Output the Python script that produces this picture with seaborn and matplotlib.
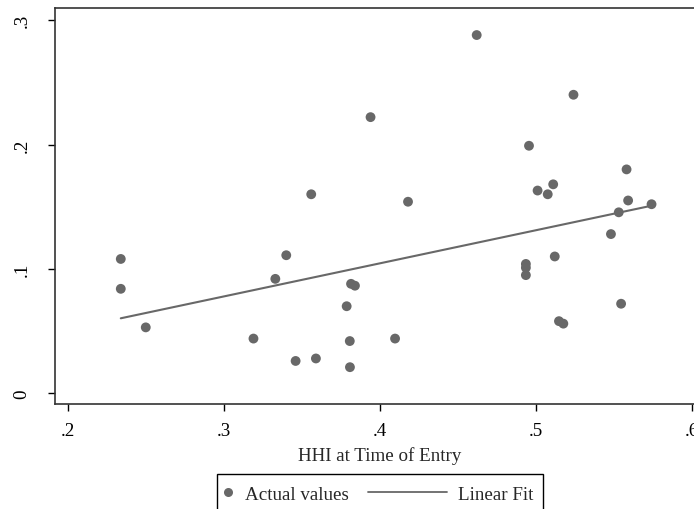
import numpy as np
import pandas as pd
import seaborn as sns
import matplotlib
matplotlib.use("Agg")
import matplotlib.pyplot as plt
from matplotlib.lines import Line2D
from matplotlib.patches import Rectangle

hhi = [0.234, 0.234, 0.250, 0.319, 0.333, 0.340, 0.356, 0.346, 0.359,
       0.462, 0.524, 0.394, 0.4955, 0.558, 0.511, 0.501, 0.5075, 0.418,
       0.559, 0.574, 0.553, 0.548, 0.512, 0.4935, 0.4935, 0.4935,
       0.3815, 0.384, 0.3787, 0.3807, 0.3808, 0.4097, 0.5545, 0.5147, 0.5175]
outcome = [0.108, 0.084, 0.053, 0.044, 0.092, 0.111, 0.160, 0.026, 0.028,
           0.288, 0.240, 0.222, 0.199, 0.180, 0.168, 0.163, 0.160, 0.154,
           0.155, 0.152, 0.1455, 0.128, 0.110, 0.104, 0.101, 0.095,
           0.088, 0.0865, 0.070, 0.042, 0.021, 0.044, 0.072, 0.058, 0.056]

fit_x = [0.234, 0.574]
fit_y = [0.0603, 0.1508]

xticks = [0.2, 0.3, 0.4, 0.5, 0.6]
xticklabels = [".2", ".3", ".4", ".5", ".6"]
yticks = [0.0, 0.1, 0.2, 0.3]
yticklabels = ["0", ".1", ".2", ".3"]

df = pd.DataFrame({"hhi": hhi, "y": outcome})
fit = pd.DataFrame({"x": fit_x, "y": fit_y})

sns.set_style("white")
plt.rcParams["font.family"] = ["Liberation Serif", "DejaVu Serif"]

FS = 13.7
W, H = 694, 510
fig = plt.figure(figsize=(6.94, 5.10), dpi=100)
ax = fig.add_axes([55/W, 1 - 405/H, (W-55)/W, (405-9.3)/H])

col = "#686868"
sns.scatterplot(data=df, x="hhi", y="y", ax=ax, s=50, color=col,
                edgecolor="none", zorder=3)
sns.lineplot(data=fit, x="x", y="y", ax=ax, color=col, lw=1.5, zorder=2)

ax.set_xlim(0.19186, 0.6012)
ax.set_ylim(-0.0086, 0.3095)
ax.set_xticks(xticks)
ax.set_xticklabels(xticklabels)
ax.set_yticks(yticks)
ax.set_yticklabels(yticklabels, rotation=90, va="center")
ax.tick_params(direction="out", length=5, width=1, colors="black",
               labelsize=FS, bottom=True, left=True)
ax.tick_params(axis="x", pad=8)
ax.tick_params(axis="y", pad=12.5)
ax.set_xlabel("HHI at Time of Entry", fontsize=FS)
ax.xaxis.set_label_coords((379.5 - 55) / (W - 55), -(456 - 405) / (405 - 9.3),
                          transform=ax.transAxes)
ax.xaxis.label.set_va("center")
ax.set_ylabel("")
for s in ["left", "bottom", "top"]:
    ax.spines[s].set_color("#333333")
    ax.spines[s].set_linewidth(1.2)
ax.spines["right"].set_visible(False)

# legend: frame + two entries
ly = 1 - 495/H
fig.patches.append(Rectangle((216.7/W, -0.05), (542.7-216.7)/W, 0.05 + 1 - 475/H,
                             transform=fig.transFigure, fill=False,
                             edgecolor="black", linewidth=1.0))
h1 = Line2D([], [], marker="o", ls="none", color=col, markersize=6.5,
            markeredgewidth=0)
h2 = Line2D([], [], color=col, lw=1.3)
leg1 = fig.legend([h1], ["Actual values"], loc="center left",
                  bbox_to_anchor=(218.5/W, ly), frameon=False, fontsize=FS,
                  handlelength=1.0, handletextpad=0.4, borderpad=0,
                  borderaxespad=0)
leg2 = fig.legend([h2], ["Linear Fit"], loc="center left",
                  bbox_to_anchor=(368/W, ly), frameon=False, fontsize=FS,
                  handlelength=4.14, handletextpad=0.6, borderpad=0,
                  borderaxespad=0)

fig.savefig("out.png", dpi=100)
